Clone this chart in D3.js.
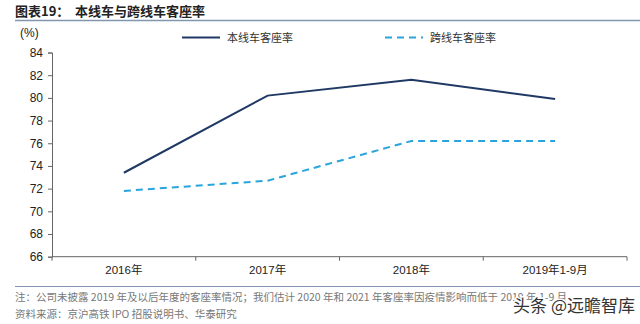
<!DOCTYPE html>
<html>
<head>
<meta charset="utf-8">
<script src="https://cdn.jsdelivr.net/npm/d3@7/dist/d3.min.js"></script>
<style>
  body { margin: 0; background: #fff; }
  svg { display: block; font-family: "Liberation Sans", Arial, sans-serif; }
  .cjk { font-family: "Noto Sans CJK SC", sans-serif; }
</style>
</head>
<body>
<script>
'use strict';

var categories = ["2016年", "2017年", "2018年", "2019年1-9月"];
var localRate = [73.4, 80.2, 81.6, 79.9];
var crossRate = [71.8, 72.7, 76.2, 76.2];
var yTicks = [66, 68, 70, 72, 74, 76, 78, 80, 82, 84];
var seriesNames = ["本线车客座率", "跨线车客座率"];

var chart = {};
chart.width = 640;
chart.height = 324;
chart.left = 52;
chart.right = 627;
chart.top = 52.5;
chart.bottom = 256.7;

chart.run = function(){
    var svg = d3.select("body").append("svg")
        .attr("width", chart.width)
        .attr("height", chart.height);

    // title
    var title = svg.append("text").attr("class", "cjk")
        .attr("x", 15).attr("y", 16)
        .style("font-size", "13px").style("font-weight", "bold").attr("fill", "#222");
    title.append("tspan").text("图表19：");
    title.append("tspan").attr("x", 75).text("本线车与跨线车客座率");

    svg.append("line")
        .attr("x1", 15).attr("x2", 640).attr("y1", 20.5).attr("y2", 20.5)
        .attr("stroke", "#8197b0").attr("stroke-width", 1.5);

    var x = d3.scaleBand().domain(categories).range([chart.left, chart.right]);
    var y = d3.scaleLinear().domain([66, 84]).range([chart.bottom, chart.top]);

    // y axis
    var yAxis = svg.append("g")
        .attr("transform", "translate(" + chart.left + ",0)")
        .call(d3.axisLeft(y).tickValues(yTicks).tickSize(4).tickPadding(5));
    yAxis.selectAll("path, line").attr("stroke", "#666");
    yAxis.selectAll("text").style("font-size", "12px").attr("fill", "#222")
        .style("font-family", "'Liberation Sans', Arial, sans-serif");

    // x axis
    var xAxis = svg.append("g")
        .attr("transform", "translate(0," + chart.bottom + ")")
        .call(d3.axisBottom(x).tickSize(0).tickPadding(9));
    xAxis.select("path").attr("stroke", "#666").attr("d",
        "M" + chart.left + ",0H" + chart.right);
    xAxis.selectAll("text").style("font-size", "11.5px").attr("fill", "#222")
        .style("font-family", "'Liberation Sans', 'Noto Sans CJK SC', sans-serif");
    var bounds = categories.map(function(c){ return x(c); }).concat([chart.right]);
    svg.append("g").selectAll("line").data(bounds).enter().append("line")
        .attr("x1", function(d){ return d; }).attr("x2", function(d){ return d; })
        .attr("y1", chart.bottom).attr("y2", chart.bottom + 4)
        .attr("stroke", "#666");

    svg.append("text")
        .attr("x", 20).attr("y", 37)
        .style("font-size", "12px").attr("fill", "#222").text("(%)");

    var line = d3.line()
        .x(function(d, i){ return x(categories[i]) + x.bandwidth() / 2; })
        .y(function(d){ return y(d); });

    svg.append("path").datum(crossRate)
        .attr("d", line).attr("fill", "none")
        .attr("stroke", "#2aa4dc").attr("stroke-width", 2)
        .attr("stroke-dasharray", "7,5");

    svg.append("path").datum(localRate)
        .attr("d", line).attr("fill", "none")
        .attr("stroke", "#1f3864").attr("stroke-width", 2);

    // legend
    var legend = [
        {x: 182, color: "#1f3864", dash: null},
        {x: 385, color: "#2aa4dc", dash: "7,5"}
    ];
    legend.forEach(function(l, i){
        svg.append("line")
            .attr("x1", l.x).attr("x2", l.x + 38).attr("y1", 37.5).attr("y2", 37.5)
            .attr("stroke", l.color).attr("stroke-width", 2)
            .attr("stroke-dasharray", l.dash);
        svg.append("text").attr("class", "cjk")
            .attr("x", l.x + 45).attr("y", 41.5)
            .style("font-size", "11px").attr("fill", "#333")
            .text(seriesNames[i]);
    });

    // footer
    svg.append("line")
        .attr("x1", 15).attr("x2", 640).attr("y1", 286.5).attr("y2", 286.5)
        .attr("stroke", "#8197b0").attr("stroke-width", 1.2);

    svg.append("text").attr("class", "cjk")
        .attr("x", 15).attr("y", 301)
        .style("font-size", "10.5px").attr("fill", "#777")
        .text("注：公司未披露 2019 年及以后年度的客座率情况；我们估计 2020 年和 2021 年客座率因疫情影响而低于 2019 年 1-9 月");
    svg.append("text").attr("class", "cjk")
        .attr("x", 15).attr("y", 318)
        .style("font-size", "10.5px").attr("fill", "#777")
        .text("资料来源：京沪高铁 IPO 招股说明书、华泰研究");

    svg.append("text").attr("class", "cjk")
        .attr("x", 635).attr("y", 312).attr("text-anchor", "end")
        .style("font-size", "17px").attr("fill", "#333")
        .attr("stroke", "#fff").attr("stroke-width", 3).attr("paint-order", "stroke")
        .text("头条 @远瞻智库");
};

window.onload = chart.run;
</script>
</body>
</html>
